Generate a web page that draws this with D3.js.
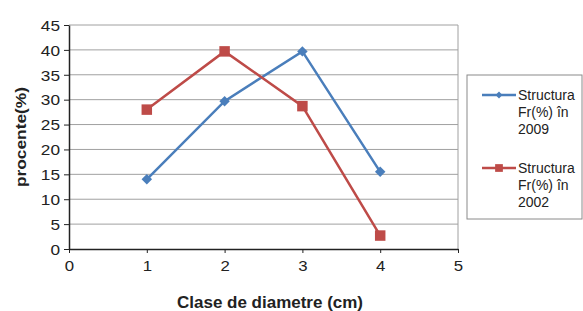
<!DOCTYPE html>
<html>
<head>
<meta charset="utf-8">
<script src="https://cdn.jsdelivr.net/npm/d3@7"></script>
<style>
  body { margin: 0; background: #fff; }
  text { font-family: "Liberation Sans", Arial, sans-serif; }
</style>
</head>
<body>
<svg id="chart" width="583" height="311"></svg>
<script>
// data
const classes = [1, 2, 3, 4];
const fr2009 = [14, 29.7, 39.7, 15.5];
const fr2002 = [28, 39.7, 28.7, 2.7];
const xTicks = [0, 1, 2, 3, 4, 5];
const yTicks = [0, 5, 10, 15, 20, 25, 30, 35, 40, 45];
const seriesNames = [['Structura', 'Fr(%) în', '2009'], ['Structura', 'Fr(%) în', '2002']];

const margin = {top: 25, right: 125, bottom: 62, left: 69};
const width = 583, height = 311;

const svg = d3.select('#chart');

const x = d3.scaleLinear().domain([0, 5]).range([margin.left, width - margin.right]);
const y = d3.scaleLinear().domain([0, 45]).range([height - margin.bottom, margin.top]);

// gridlines
svg.append('g')
    .selectAll('line')
    .data(yTicks.slice(1))
    .enter()
    .append('line')
    .attr('x1', x(0))
    .attr('x2', x(5))
    .attr('y1', d => y(d))
    .attr('y2', d => y(d))
    .attr('stroke', '#a0a0a0')
    .attr('stroke-width', 1);

// right border of the plot area
svg.append('line')
    .attr('x1', x(5)).attr('x2', x(5))
    .attr('y1', y(45)).attr('y2', y(0))
    .attr('stroke', '#a0a0a0');

// axes
const xAxis = svg.append('g')
    .attr('transform', `translate(0,${y(0)})`)
    .call(d3.axisBottom(x).tickValues(xTicks).tickSize(4).tickSizeOuter(0).tickFormat(d3.format('d')));
const yAxis = svg.append('g')
    .attr('transform', `translate(${x(0)},0)`)
    .call(d3.axisLeft(y).tickValues(yTicks).tickSize(5).tickSizeOuter(0));

[xAxis, yAxis].forEach(a => {
    a.select('.domain').attr('stroke', '#222').attr('stroke-width', 1.5);
    a.selectAll('.tick line').attr('stroke', '#222');
    a.selectAll('.tick text')
        .attr('font-size', 15)
        .attr('fill', '#222')
        .attr('font-family', '"Liberation Sans", Arial, sans-serif');
});
// the scan is a bit wider than tall, stretch the labels a little
xAxis.selectAll('.tick text').attr('y', 0).attr('dy', 0)
    .attr('transform', 'translate(0,22) scale(1.12,1)');
yAxis.selectAll('.tick text').attr('x', 0).attr('dy', '0.35em')
    .attr('transform', 'translate(-9,0) scale(1.15,1)');

// axis titles
svg.append('text')
    .attr('x', 270)
    .attr('y', 308)
    .attr('text-anchor', 'middle')
    .attr('font-size', 16)
    .attr('font-weight', 'bold')
    .attr('fill', '#222')
    .attr('textLength', 186)
    .attr('lengthAdjust', 'spacingAndGlyphs')
    .text('Clase de diametre (cm)');

svg.append('text')
    .attr('transform', `translate(26,${(y(0) + y(45)) / 2}) rotate(-90)`)
    .attr('text-anchor', 'middle')
    .attr('font-size', 15)
    .attr('font-weight', 'bold')
    .attr('fill', '#222')
    .attr('textLength', 100)
    .attr('lengthAdjust', 'spacingAndGlyphs')
    .text('procente(%)');

const colors = ['#4a7ebb', '#be4b48'];
const series = [fr2009, fr2002];

const line = d3.line()
    .x((d, i) => x(classes[i]))
    .y(d => y(d));

series.forEach((s, k) => {
    svg.append('path')
        .datum(s)
        .attr('d', line)
        .attr('fill', 'none')
        .attr('stroke', colors[k])
        .attr('stroke-width', 2.5);
});

const diamond = d3.symbol().type(d3.symbolDiamond2).size(70);
const square = d3.symbol().type(d3.symbolSquare).size(110);

svg.append('g')
    .selectAll('path')
    .data(fr2009)
    .enter()
    .append('path')
    .attr('d', diamond)
    .attr('transform', (d, i) => `translate(${x(classes[i])},${y(d)})`)
    .attr('fill', colors[0]);

svg.append('g')
    .selectAll('path')
    .data(fr2002)
    .enter()
    .append('path')
    .attr('d', square)
    .attr('transform', (d, i) => `translate(${x(classes[i])},${y(d)})`)
    .attr('fill', colors[1]);

// legend
const legend = svg.append('g');
legend.append('rect')
    .attr('x', 467).attr('y', 75)
    .attr('width', 115).attr('height', 144)
    .attr('fill', '#fff')
    .attr('stroke', '#8a8a8a');

const legendY = [95, 168];
seriesNames.forEach((names, k) => {
    const ly = legendY[k];
    legend.append('line')
        .attr('x1', 482).attr('x2', 516)
        .attr('y1', ly).attr('y2', ly)
        .attr('stroke', colors[k])
        .attr('stroke-width', 2.5);
    legend.append('path')
        .attr('d', k === 0 ? d3.symbol().type(d3.symbolDiamond2).size(30) : d3.symbol().type(d3.symbolSquare).size(60))
        .attr('transform', `translate(499,${ly})`)
        .attr('fill', colors[k]);
    names.forEach((t, j) => {
        legend.append('text')
            .attr('x', 518)
            .attr('y', ly + 5 + j * 17)
            .attr('font-size', 14)
            .attr('fill', '#222')
            .text(t);
    });
});
</script>
</body>
</html>
